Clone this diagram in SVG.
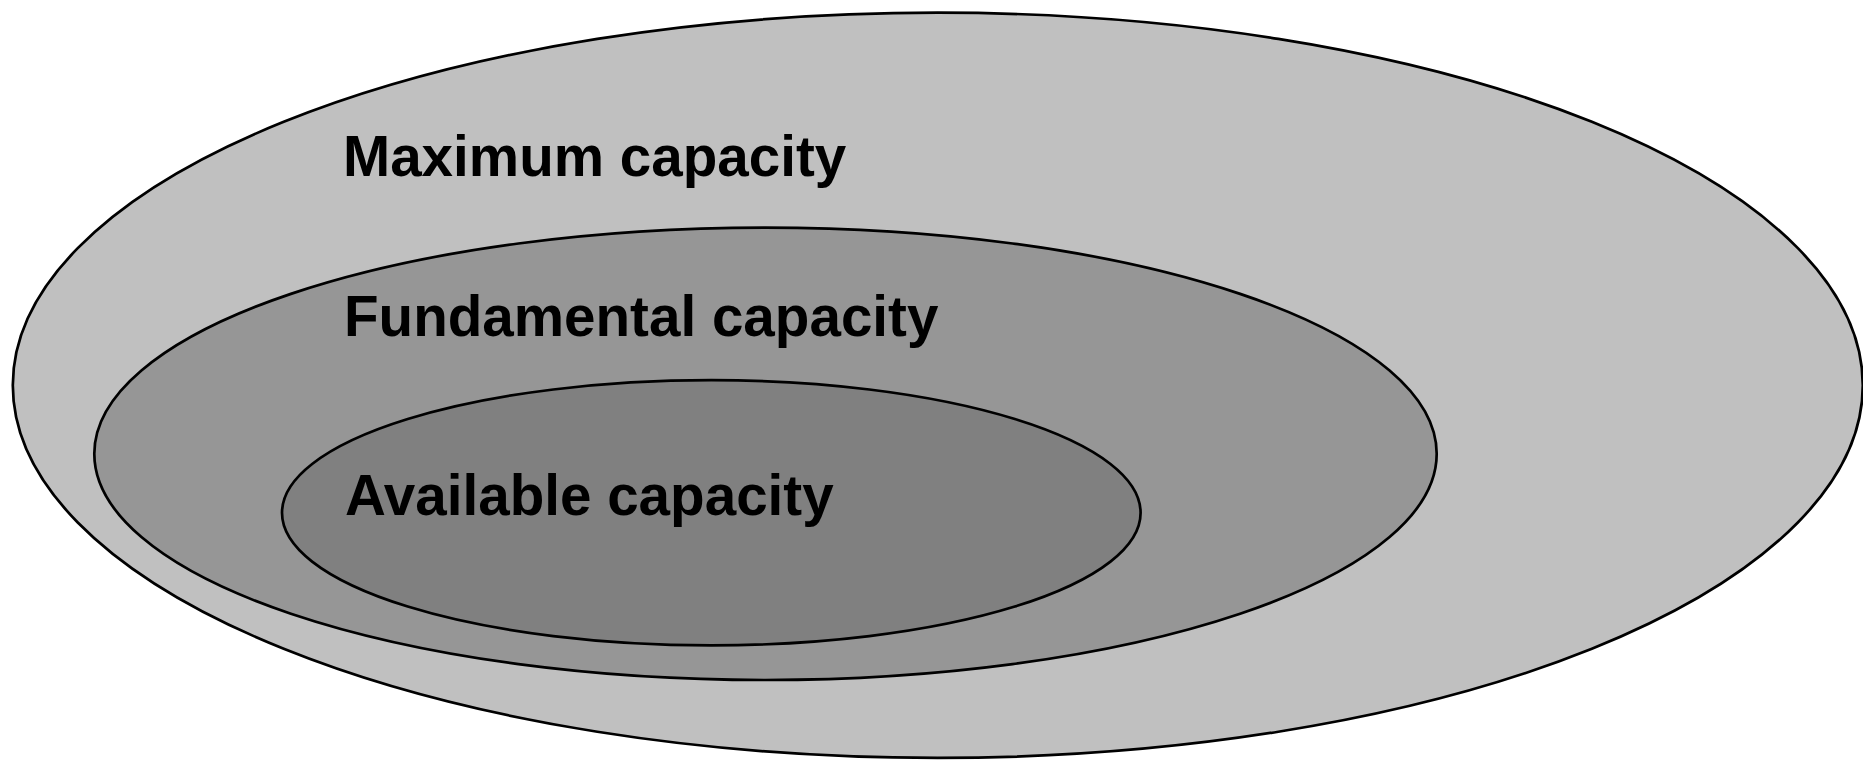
<svg xmlns="http://www.w3.org/2000/svg" width="1863" height="760" viewBox="0 0 1863 760">
  <style>
    .ring { stroke: #000000; stroke-width: 2.7; }
    .label { font-family: "Liberation Sans", Arial, sans-serif; font-weight: bold; font-size: 56.6px; fill: #000000; }
  </style>
  <rect x="0" y="0" width="1863" height="760" fill="#FFFFFF"/>
  <g id="maximum-capacity">
    <ellipse class="ring" cx="937.8" cy="385.3" rx="925" ry="372.6" fill="#C0C0C0"/>
    <text class="label" x="343" y="176">Maximum capacity</text>
  </g>
  <g id="fundamental-capacity">
    <ellipse class="ring" cx="765.5" cy="453.8" rx="671.2" ry="226.2" fill="#969696"/>
    <text class="label" x="344" y="336">Fundamental capacity</text>
  </g>
  <g id="available-capacity">
    <ellipse class="ring" cx="711.3" cy="512.8" rx="429.3" ry="132.6" fill="#808080"/>
    <text class="label" x="345" y="515">Available capacity</text>
  </g>
  <g id="connectors"/>
</svg>
